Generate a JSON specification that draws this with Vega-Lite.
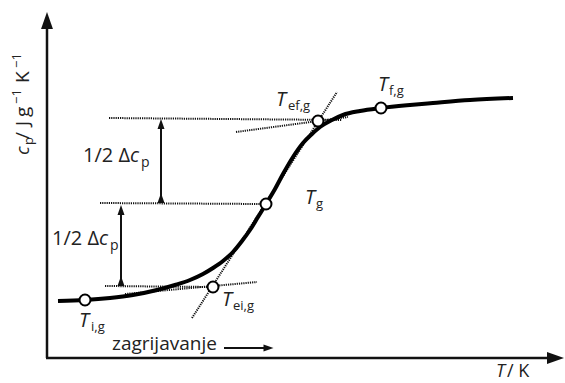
{
  "$schema": "https://vega.github.io/schema/vega-lite/v6.json",
  "width": 565,
  "height": 383,
  "autosize": {"type": "fit", "contains": "padding"},
  "padding": 0,
  "background": "white",
  "config": {"view": {"stroke": null}},
  "datasets": {
    "curve": [
      {"T": 58, "cp": 82}, {"T": 85, "cp": 83}, {"T": 110, "cp": 85}, {"T": 133, "cp": 88},
      {"T": 157, "cp": 93}, {"T": 175, "cp": 98}, {"T": 190, "cp": 103}, {"T": 203, "cp": 109},
      {"T": 213, "cp": 115}, {"T": 223, "cp": 122}, {"T": 233, "cp": 131}, {"T": 242, "cp": 142},
      {"T": 250, "cp": 153}, {"T": 258, "cp": 166}, {"T": 266, "cp": 179}, {"T": 275, "cp": 194},
      {"T": 283, "cp": 209}, {"T": 293, "cp": 226}, {"T": 303, "cp": 240}, {"T": 312, "cp": 249},
      {"T": 320, "cp": 256}, {"T": 332, "cp": 263}, {"T": 343, "cp": 268}, {"T": 360, "cp": 272},
      {"T": 381, "cp": 275}, {"T": 410, "cp": 278}, {"T": 433, "cp": 280}, {"T": 470, "cp": 283},
      {"T": 513, "cp": 285}
    ],
    "points": [
      {"name": "Ti,g", "T": 85, "cp": 83},
      {"name": "Tei,g", "T": 213, "cp": 96},
      {"name": "Tg", "T": 266, "cp": 179},
      {"name": "Tef,g", "T": 318, "cp": 262},
      {"name": "Tf,g", "T": 381, "cp": 275}
    ],
    "dotted": [
      {"T": 109, "cp": 265, "T2": 342, "cp2": 263},
      {"T": 236, "cp": 251, "T2": 348, "cp2": 266},
      {"T": 192, "cp": 65, "T2": 337, "cp2": 291},
      {"T": 105, "cp": 97, "T2": 213, "cp2": 96},
      {"T": 125, "cp": 89, "T2": 257, "cp2": 101},
      {"T": 100, "cp": 180, "T2": 262, "cp2": 179}
    ],
    "axes": [
      {"T": 47, "cp": 25, "T2": 47, "cp2": 356},
      {"T": 46, "cp": 25, "T2": 550, "cp2": 25}
    ],
    "shafts": [
      {"T": 161, "cp": 261, "T2": 161, "cp2": 183},
      {"T": 121, "cp": 175, "T2": 121, "cp2": 100},
      {"T": 224, "cp": 35, "T2": 266, "cp2": 35}
    ],
    "bigHeads": [
      {"dir": "up", "T": 47, "cp": 362.5},
      {"dir": "right", "T": 555.5, "cp": 25}
    ],
    "smallHeads": [
      {"dir": "up", "T": 161, "cp": 259},
      {"dir": "down", "T": 161, "cp": 185},
      {"dir": "up", "T": 121, "cp": 173},
      {"dir": "down", "T": 121, "cp": 102},
      {"dir": "right", "T": 268.5, "cp": 35}
    ],
    "texts": [
      {"kind": "Tmain", "label": "T", "T": 79, "cp": 56},
      {"kind": "Tmain", "label": "T", "T": 222, "cp": 77},
      {"kind": "Tmain", "label": "T", "T": 305, "cp": 179},
      {"kind": "Tmain", "label": "T", "T": 276, "cp": 277},
      {"kind": "Tmain", "label": "T", "T": 378, "cp": 292},
      {"kind": "sub", "label": "i,g", "T": 91, "cp": 52},
      {"kind": "sub", "label": "ei,g", "T": 233, "cp": 73},
      {"kind": "sub", "label": "g", "T": 316, "cp": 175},
      {"kind": "sub", "label": "ef,g", "T": 288, "cp": 273},
      {"kind": "sub", "label": "f,g", "T": 389, "cp": 288},
      {"kind": "plain", "label": "1/2 Δ", "T": 83, "cp": 221},
      {"kind": "plain", "label": "1/2 Δ", "T": 52, "cp": 138},
      {"kind": "zag", "label": "zagrijavanje", "T": 112, "cp": 33},
      {"kind": "tk", "label": "/ K", "T": 507, "cp": 6},
      {"kind": "tkital", "label": "T", "T": 496, "cp": 6},
      {"kind": "ital", "label": "c", "T": 130, "cp": 221},
      {"kind": "ital", "label": "c", "T": 99, "cp": 138},
      {"kind": "psub", "label": "p", "T": 141, "cp": 216},
      {"kind": "psub", "label": "p", "T": 110, "cp": 133},
      {"kind": "yital", "label": "c", "T": 29, "cp": 228},
      {"kind": "ysub", "label": "p", "T": 33, "cp": 238},
      {"kind": "yplain", "label": "/", "T": 29, "cp": 244},
      {"kind": "yplain", "label": "J", "T": 29, "cp": 257},
      {"kind": "yplain", "label": "g", "T": 29, "cp": 266},
      {"kind": "yplain", "label": "K", "T": 29, "cp": 300},
      {"kind": "ysup", "label": "−1", "T": 21, "cp": 279},
      {"kind": "ysup", "label": "−1", "T": 21, "cp": 315}
    ]
  },
  "encoding": {
    "x": {"field": "T", "type": "quantitative", "scale": {"domain": [0, 565], "nice": false, "zero": false}, "axis": null},
    "y": {"field": "cp", "type": "quantitative", "scale": {"domain": [0, 383], "nice": false, "zero": false}, "axis": null}
  },
  "layer": [
    {
      "data": {"name": "dotted"},
      "mark": {"type": "rule", "strokeDash": [1.2, 1], "strokeWidth": 2, "color": "#111"},
      "encoding": {"x2": {"field": "T2"}, "y2": {"field": "cp2"}}
    },
    {
      "data": {"name": "axes"},
      "mark": {"type": "rule", "strokeWidth": 2.5, "color": "#111"},
      "encoding": {"x2": {"field": "T2"}, "y2": {"field": "cp2"}}
    },
    {
      "data": {"name": "shafts"},
      "mark": {"type": "rule", "strokeWidth": 2, "color": "#111"},
      "encoding": {"x2": {"field": "T2"}, "y2": {"field": "cp2"}}
    },
    {
      "data": {"name": "bigHeads"},
      "mark": {"type": "point", "filled": true, "color": "#111", "size": 289, "opacity": 1},
      "encoding": {
        "shape": {"field": "dir", "type": "nominal", "legend": null,
          "scale": {"domain": ["up", "right"], "range": ["M0,-1L-0.7,1L0.7,1Z", "M1,0L-1,-0.7L-1,0.7Z"]}}
      }
    },
    {
      "data": {"name": "smallHeads"},
      "mark": {"type": "point", "filled": true, "color": "#111", "size": 100, "opacity": 1},
      "encoding": {
        "shape": {"field": "dir", "type": "nominal", "legend": null,
          "scale": {"domain": ["up", "down", "right"], "range": ["M0,-1L-0.8,1L0.8,1Z", "M0,1L-0.8,-1L0.8,-1Z", "M1,0L-1,-0.6L-1,0.6Z"]}}
      }
    },
    {
      "data": {"name": "curve"},
      "mark": {"type": "line", "interpolate": "monotone", "strokeWidth": 4, "color": "#000"},
      "encoding": {"order": {"field": "T", "type": "quantitative"}}
    },
    {
      "data": {"name": "points"},
      "mark": {"type": "point", "shape": "circle", "size": 120, "filled": true, "fill": "white", "stroke": "#000", "strokeWidth": 2, "opacity": 1},
      "encoding": {}
    },
    {
      "data": {"name": "texts"},
      "transform": [{"filter": "datum.kind == 'Tmain'"}],
      "mark": {"type": "text", "font": "Open Sans", "fontSize": 20, "fontStyle": "italic", "align": "left", "baseline": "alphabetic", "color": "#222"},
      "encoding": {"text": {"field": "label"}}
    },
    {
      "data": {"name": "texts"},
      "transform": [{"filter": "datum.kind == 'sub'"}],
      "mark": {"type": "text", "font": "Open Sans", "fontSize": 13, "align": "left", "baseline": "alphabetic", "color": "#222"},
      "encoding": {"text": {"field": "label"}}
    },
    {
      "data": {"name": "texts"},
      "transform": [{"filter": "datum.kind == 'plain'"}],
      "mark": {"type": "text", "font": "Open Sans", "fontSize": 20, "align": "left", "baseline": "alphabetic", "color": "#222"},
      "encoding": {"text": {"field": "label"}}
    },
    {
      "data": {"name": "texts"},
      "transform": [{"filter": "datum.kind == 'zag'"}],
      "mark": {"type": "text", "font": "Open Sans", "fontSize": 19, "align": "left", "baseline": "alphabetic", "color": "#222"},
      "encoding": {"text": {"field": "label"}}
    },
    {
      "data": {"name": "texts"},
      "transform": [{"filter": "datum.kind == 'tk'"}],
      "mark": {"type": "text", "font": "Open Sans", "fontSize": 18, "align": "left", "baseline": "alphabetic", "color": "#222"},
      "encoding": {"text": {"field": "label"}}
    },
    {
      "data": {"name": "texts"},
      "transform": [{"filter": "datum.kind == 'tkital'"}],
      "mark": {"type": "text", "font": "Open Sans", "fontSize": 18, "fontStyle": "italic", "align": "left", "baseline": "alphabetic", "color": "#222"},
      "encoding": {"text": {"field": "label"}}
    },
    {
      "data": {"name": "texts"},
      "transform": [{"filter": "datum.kind == 'ital'"}],
      "mark": {"type": "text", "font": "Open Sans", "fontSize": 20, "fontStyle": "italic", "align": "left", "baseline": "alphabetic", "color": "#222"},
      "encoding": {"text": {"field": "label"}}
    },
    {
      "data": {"name": "texts"},
      "transform": [{"filter": "datum.kind == 'psub'"}],
      "mark": {"type": "text", "font": "Open Sans", "fontSize": 14, "align": "left", "baseline": "alphabetic", "color": "#222"},
      "encoding": {"text": {"field": "label"}}
    },
    {
      "data": {"name": "texts"},
      "transform": [{"filter": "datum.kind == 'yital'"}],
      "mark": {"type": "text", "font": "Open Sans", "fontSize": 19, "fontStyle": "italic", "angle": 270, "align": "left", "baseline": "alphabetic", "color": "#222"},
      "encoding": {"text": {"field": "label"}}
    },
    {
      "data": {"name": "texts"},
      "transform": [{"filter": "datum.kind == 'ysub'"}],
      "mark": {"type": "text", "font": "Open Sans", "fontSize": 13, "angle": 270, "align": "left", "baseline": "alphabetic", "color": "#222"},
      "encoding": {"text": {"field": "label"}}
    },
    {
      "data": {"name": "texts"},
      "transform": [{"filter": "datum.kind == 'yplain'"}],
      "mark": {"type": "text", "font": "Open Sans", "fontSize": 19, "angle": 270, "align": "left", "baseline": "alphabetic", "color": "#222"},
      "encoding": {"text": {"field": "label"}}
    },
    {
      "data": {"name": "texts"},
      "transform": [{"filter": "datum.kind == 'ysup'"}],
      "mark": {"type": "text", "font": "Open Sans", "fontSize": 13, "angle": 270, "align": "left", "baseline": "alphabetic", "color": "#222"},
      "encoding": {"text": {"field": "label"}}
    }
  ]
}
